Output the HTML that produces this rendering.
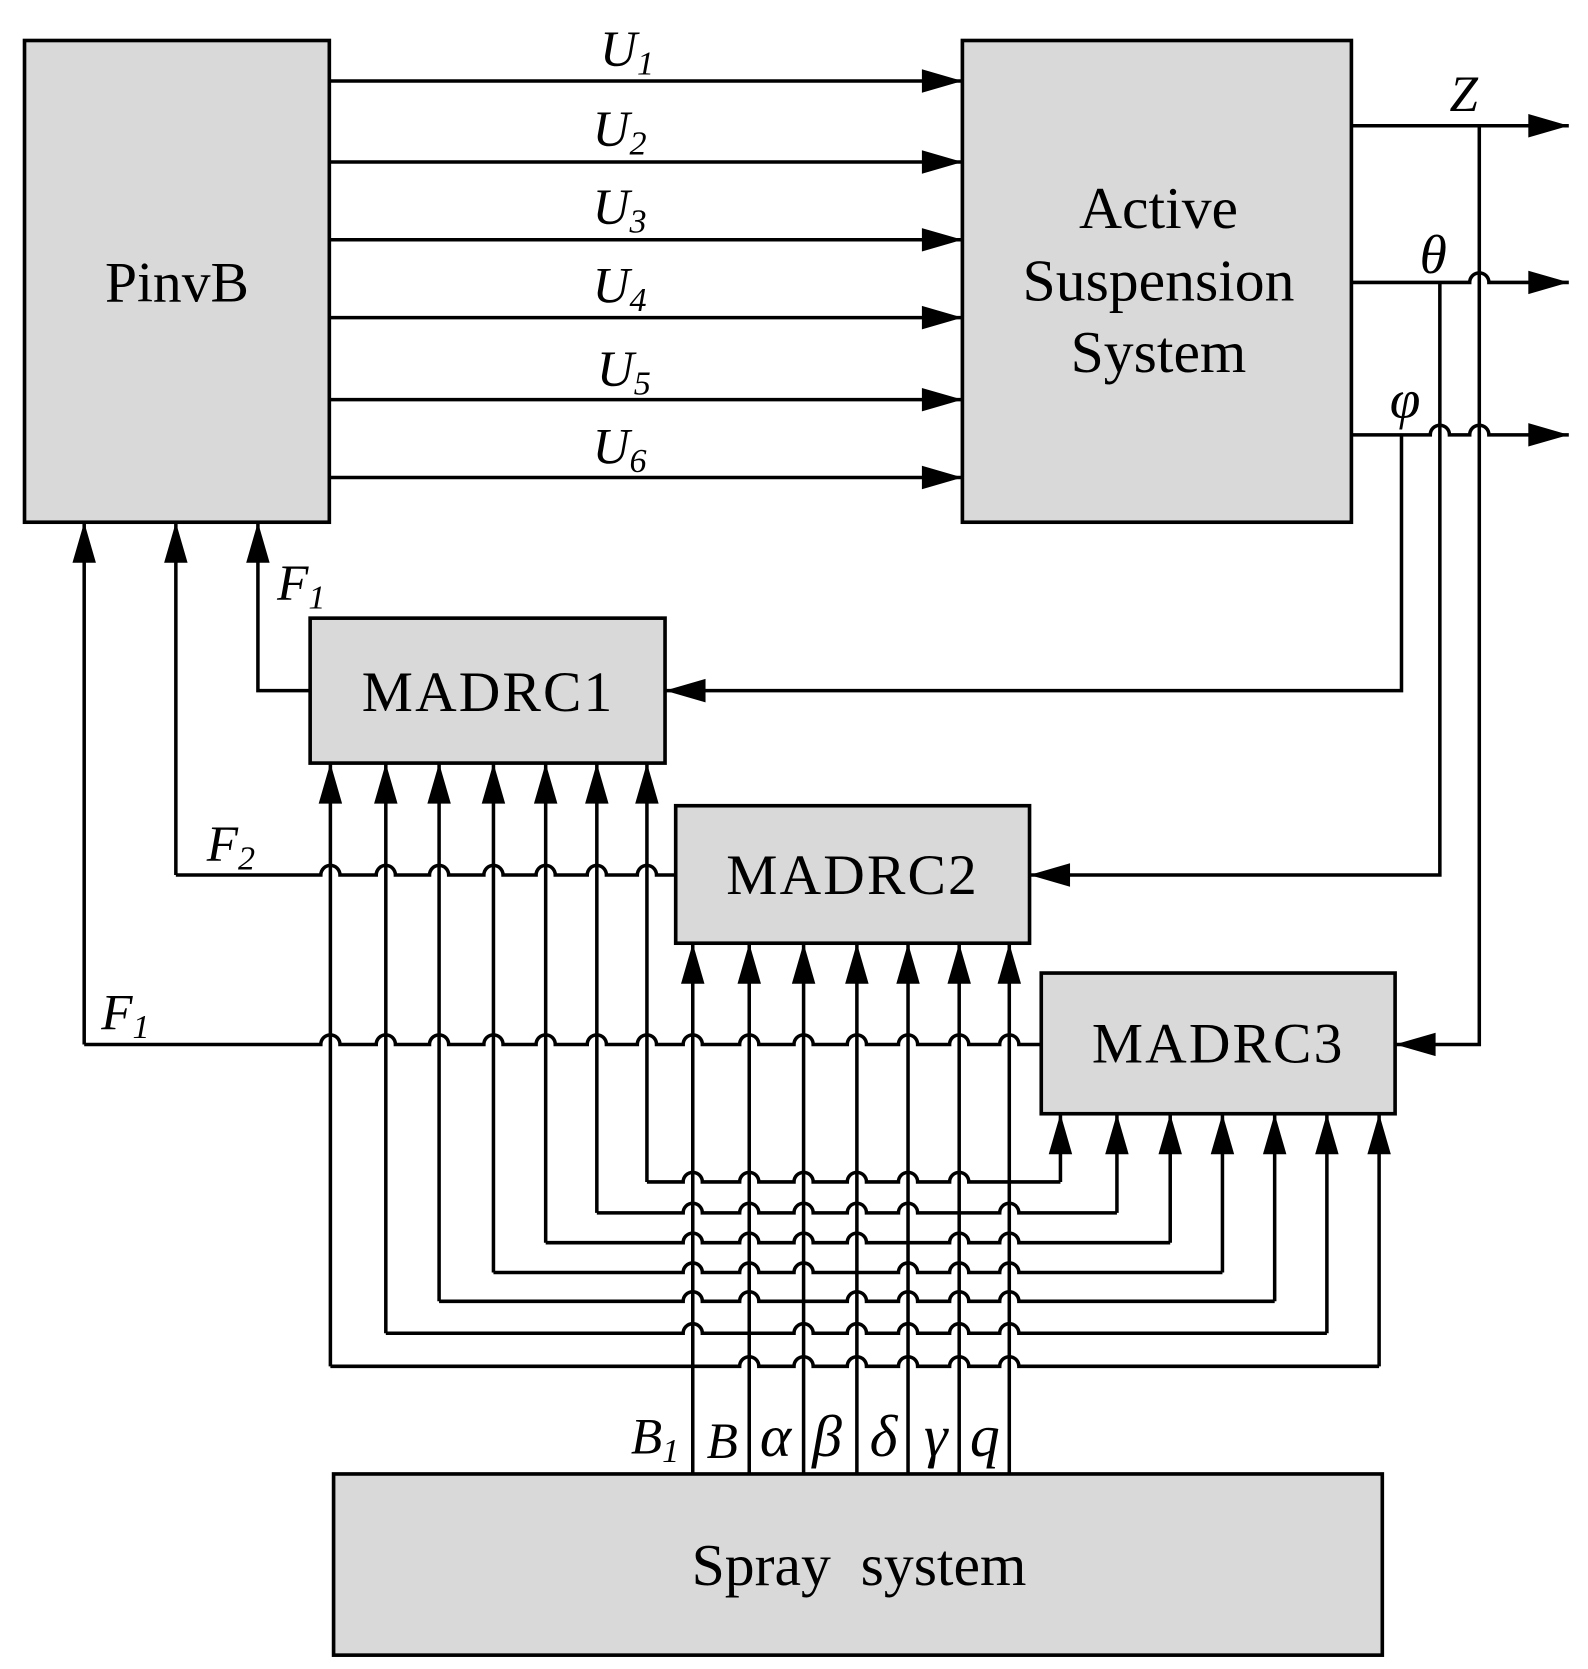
<!DOCTYPE html>
<html><head><meta charset="utf-8"><style>
html,body{margin:0;padding:0;background:#fff;}
svg{display:block;}
text{font-family:"Liberation Serif",serif;fill:#000;}
.i{font-style:italic;}
</style></head><body>
<svg id="s" width="1588" height="1669" viewBox="0 0 1490 1566" xmlns="http://www.w3.org/2000/svg">
<g fill="#d9d9d9" stroke="#000" stroke-width="3.4">
<rect x="23" y="38" width="286" height="452"/>
<rect x="903" y="38" width="365" height="452"/>
<rect x="291" y="580" width="333" height="136"/>
<rect x="634" y="756" width="332" height="129"/>
<rect x="977" y="913" width="332" height="132"/>
<rect x="313" y="1383" width="984" height="170"/>
</g>
<g id="lines" fill="none" stroke="#000" stroke-width="3.3"></g>
<g id="arrows" fill="#000"></g>
<text x="166" y="283" font-size="54" text-anchor="middle">PinvB</text>
<text x="1087" y="214" font-size="56" text-anchor="middle">Active</text>
<text x="1087" y="282" font-size="56" text-anchor="middle">Suspension</text>
<text x="1087" y="349" font-size="56" text-anchor="middle">System</text>
<text x="458" y="667" font-size="54" text-anchor="middle" letter-spacing="2">MADRC1</text>
<text x="800" y="839" font-size="54" text-anchor="middle" letter-spacing="2">MADRC2</text>
<text x="1143" y="997" font-size="54" text-anchor="middle" letter-spacing="2">MADRC3</text>
<text x="806" y="1487" font-size="56" text-anchor="middle" xml:space="preserve">Spray  system</text>
<g class="i" font-size="48">
<text x="563" y="62">U<tspan font-size="32" dy="8">1</tspan></text>
<text x="556" y="137">U<tspan font-size="32" dy="8">2</tspan></text>
<text x="556" y="210">U<tspan font-size="32" dy="8">3</tspan></text>
<text x="556" y="284">U<tspan font-size="32" dy="8">4</tspan></text>
<text x="560" y="362">U<tspan font-size="32" dy="8">5</tspan></text>
<text x="556" y="435">U<tspan font-size="32" dy="8">6</tspan></text>
<text x="1360" y="104">Z</text>
<text x="1332" y="256" font-size="52">θ</text>
<text x="1304" y="392" font-size="52">φ</text>
<text x="260" y="563">F<tspan font-size="32" dy="8">1</tspan></text>
<text x="194" y="808">F<tspan font-size="32" dy="8">2</tspan></text>
<text x="95" y="966">F<tspan font-size="32" dy="8">1</tspan></text>
<text x="592" y="1364">B<tspan font-size="32" dy="8">1</tspan></text>
<text x="663" y="1368">B</text>
<g font-size="56">
<text x="713" y="1366">α</text>
<text x="762" y="1366">β</text>
<text x="816" y="1366">δ</text>
<text x="867" y="1366">γ</text>
<text x="910" y="1366">q</text>
</g>
</g>
</svg>
<script>
var L=document.getElementById('lines'),A=document.getElementById('arrows'),NS='http://www.w3.org/2000/svg';
function P(d){var p=document.createElementNS(NS,'path');p.setAttribute('d',d);L.appendChild(p);}
function arr(x,y,dir){var l=38,w=11,pts;
 if(dir=='r')pts=[[x,y],[x-l,y-w],[x-l,y+w]];
 if(dir=='l')pts=[[x,y],[x+l,y-w],[x+l,y+w]];
 if(dir=='u')pts=[[x,y],[x-w,y+l],[x+w,y+l]];
 var p=document.createElementNS(NS,'polygon');p.setAttribute('points',pts.map(a=>a.join(',')).join(' '));A.appendChild(p);}
function H(y,x1,x2,hops){hops=(hops||[]).slice().sort((a,b)=>a-b);var d='M'+x1+' '+y,r=9;
 hops.forEach(function(h){d+=' L'+(h-r)+' '+y+' A'+r+' '+r+' 0 0 1 '+(h+r)+' '+y;});d+=' L'+x2+' '+y;P(d);}
[76,152,225,298,375,448].forEach(function(y){H(y,309,903);arr(903,y,'r');});
H(118,1268,1472);arr(1472,118,'r');
H(265,1268,1472,[1388]);arr(1472,265,'r');
H(408,1268,1472,[1351,1388]);arr(1472,408,'r');
P('M1388 118 L1388 980 L1309 980');arr(1309,980,'l');
P('M1351 265 L1351 821 L966 821');arr(966,821,'l');
P('M1315 408 L1315 648 L624 648');arr(624,648,'l');
var m1=[310,362,412,463,512,560,607],m2=[650,703,754,804,852,900,947],m3=[995,1048,1098,1147,1196,1245,1294];
var rows=[1109,1138,1166,1194,1221,1251,1282];
P('M291 648 L242 648 L242 490');arr(242,490,'u');
H(821,165,634,m1);P('M165 821 L165 490');arr(165,490,'u');
H(980,79,977,m1.concat(m2));P('M79 980 L79 490');arr(79,490,'u');
m2.forEach(function(x){P('M'+x+' 1383 L'+x+' 885');arr(x,885,'u');});
for(var i=0;i<7;i++){var y=rows[i],junc=m2[6-i];
 var hops=m2.filter(function(x){return x!=junc;});
 H(y,m1[6-i],m3[i],hops);
 P('M'+m1[6-i]+' '+y+' L'+m1[6-i]+' 716');arr(m1[6-i],716,'u');
 P('M'+m3[i]+' '+y+' L'+m3[i]+' 1045');arr(m3[i],1045,'u');}
</script>
</body></html>
